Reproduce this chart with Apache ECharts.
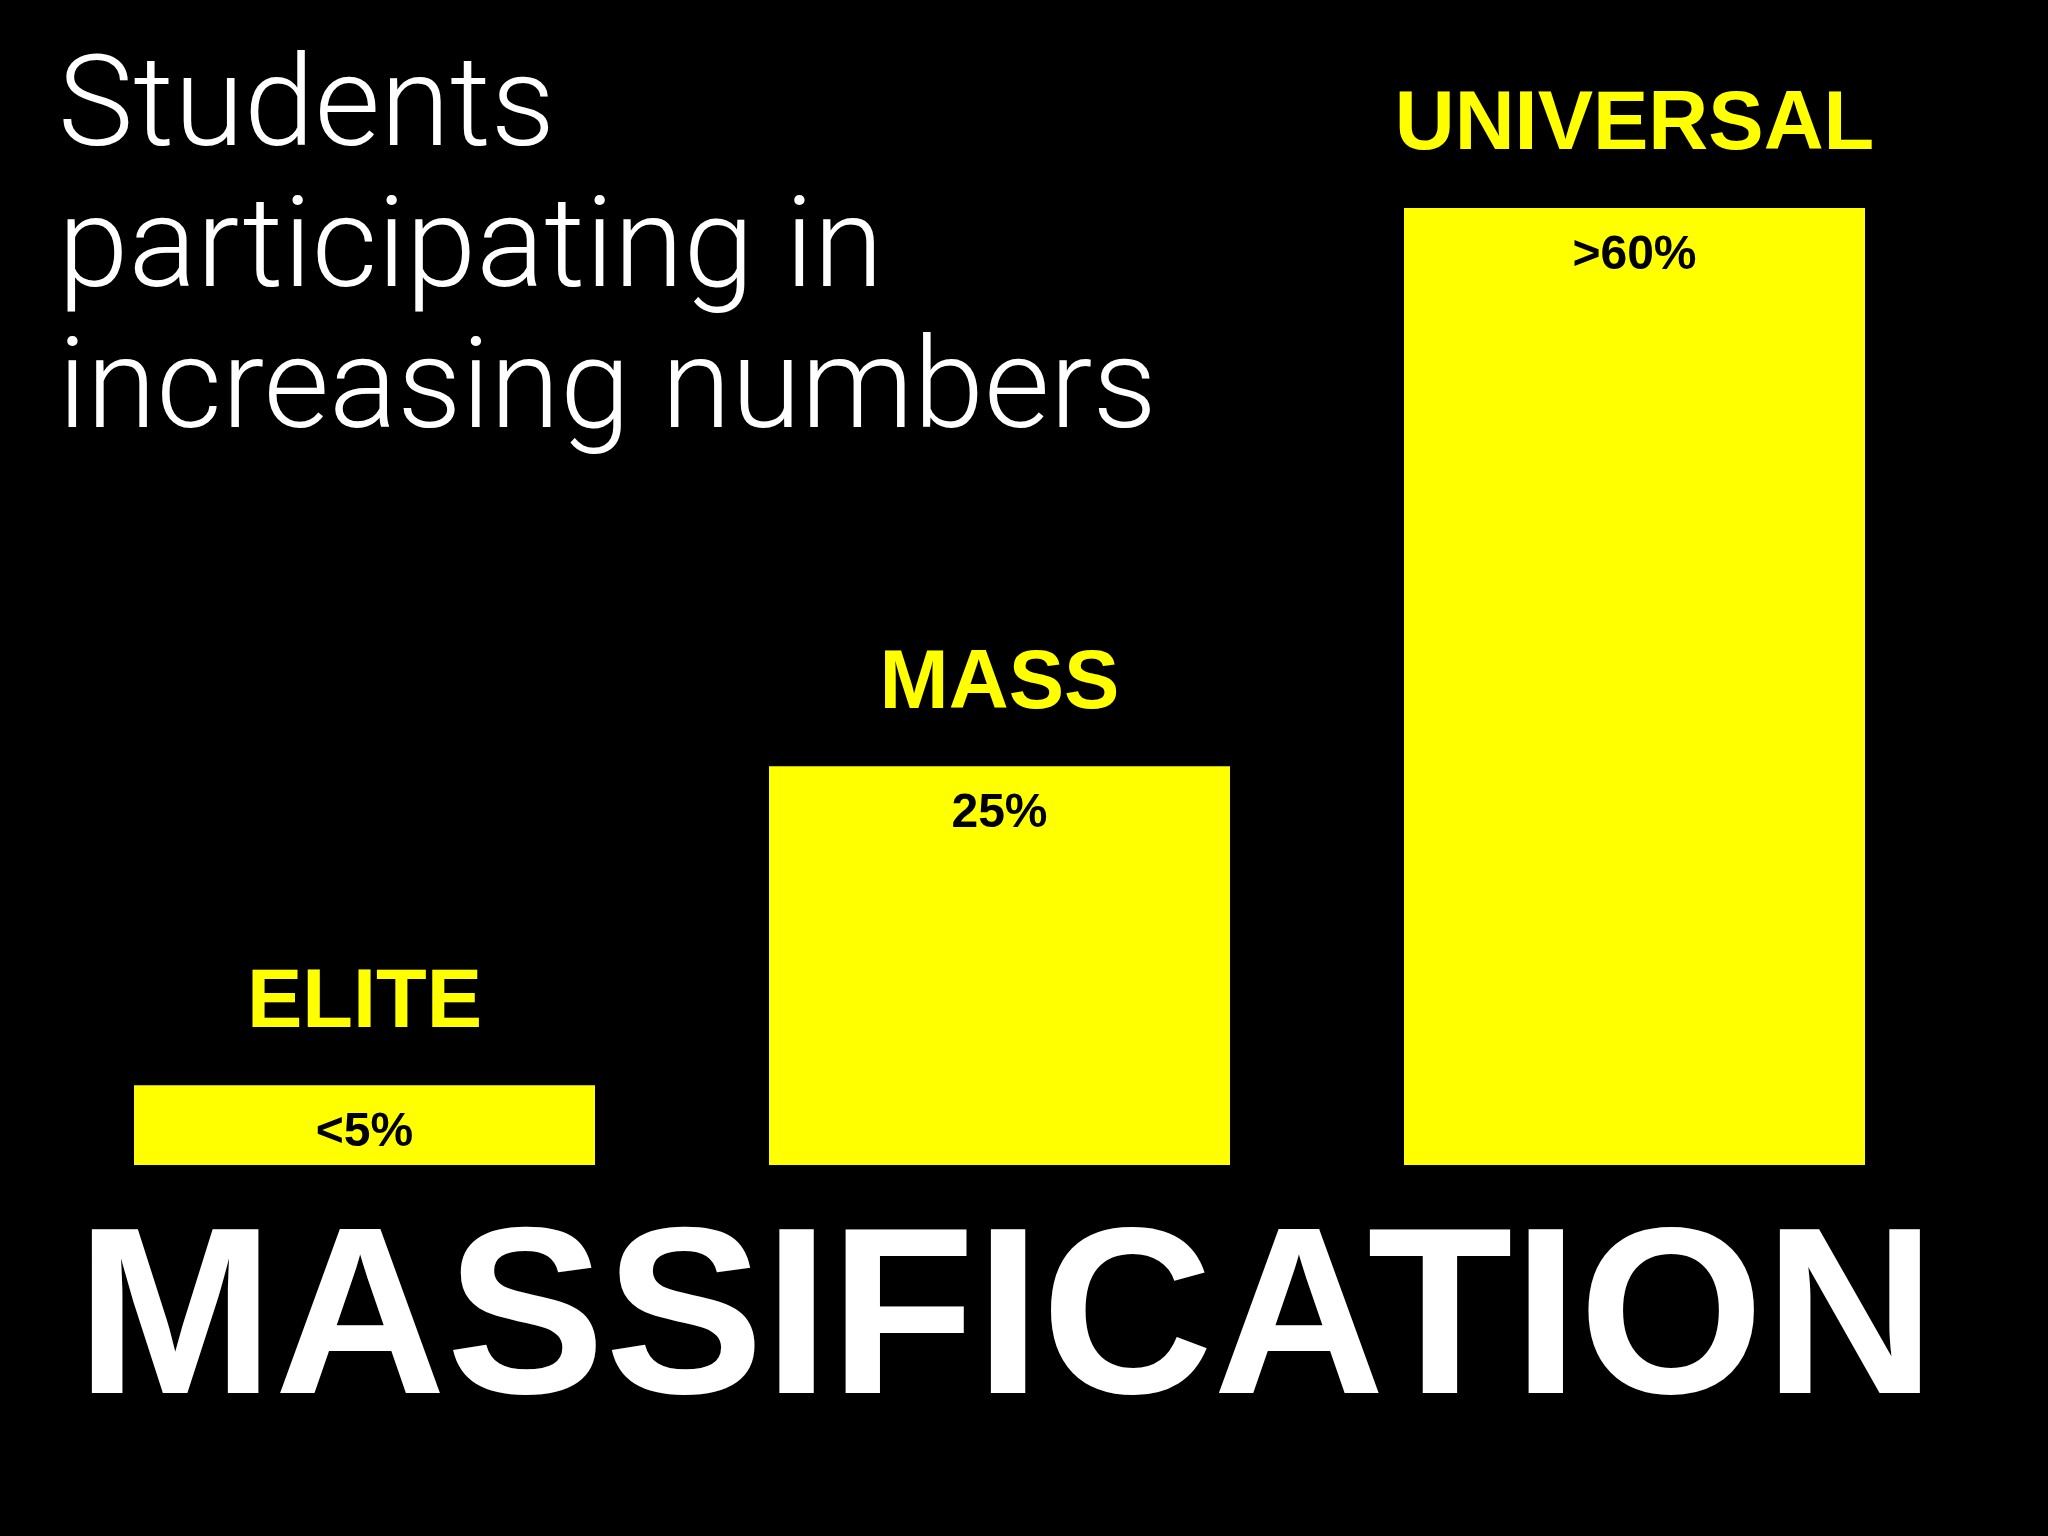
<!DOCTYPE html>
<html><head><meta charset="utf-8">
<script src="https://cdn.jsdelivr.net/npm/echarts@6/dist/echarts.min.js"></script>
<style>html,body{margin:0;padding:0;background:#000}#c{width:2048px;height:1536px}</style>
</head><body><div id="c"></div>
<script>
const categories = ['ELITE', 'MASS', 'UNIVERSAL'];
const values = [5, 25, 60];
const valueLabels = ['<5%', '25%', '>60%'];
const titleLines = ['Students', 'participating in', 'increasing numbers'];
const footer = 'MASSIFICATION';

const chart = echarts.init(document.getElementById('c'));
chart.setOption({
  backgroundColor: '#000',
  animation: false,
  grid: { left: 47, right: 96, top: 208, bottom: 371 },
  xAxis: { type: 'category', data: categories, show: false },
  yAxis: { type: 'value', min: 0, max: 60, show: false },
  series: [
    {
      type: 'bar', data: values, barWidth: 461,
      itemStyle: { color: '#ffff00' },
      label: {
        show: true, position: 'insideTop', distance: 24,
        formatter: p => valueLabels[p.dataIndex],
        color: '#000', fontFamily: 'Liberation Sans', fontWeight: 'bold', fontSize: 48
      }
    },
    {
      type: 'bar', data: values, barWidth: 461, barGap: '-100%',
      itemStyle: { color: 'transparent' },
      label: {
        show: true, position: 'top', distance: 40,
        formatter: p => categories[p.dataIndex],
        color: '#ffff00', fontFamily: 'Liberation Sans', fontWeight: 'bold', fontSize: 83
      }
    }
  ],
  graphic: [
    ...titleLines.map((t, i) => ({
      type: 'text', left: 58, top: 172 - 122 + i * 141,
      style: { text: t, fill: '#fff', font: '300 127px Roboto' }
    })),
    {
      type: 'text', left: 76, top: 1433 - 225,
      style: { text: footer, fill: '#fff', font: 'bold 238px "Liberation Sans"' }
    }
  ]
});
</script></body></html>
